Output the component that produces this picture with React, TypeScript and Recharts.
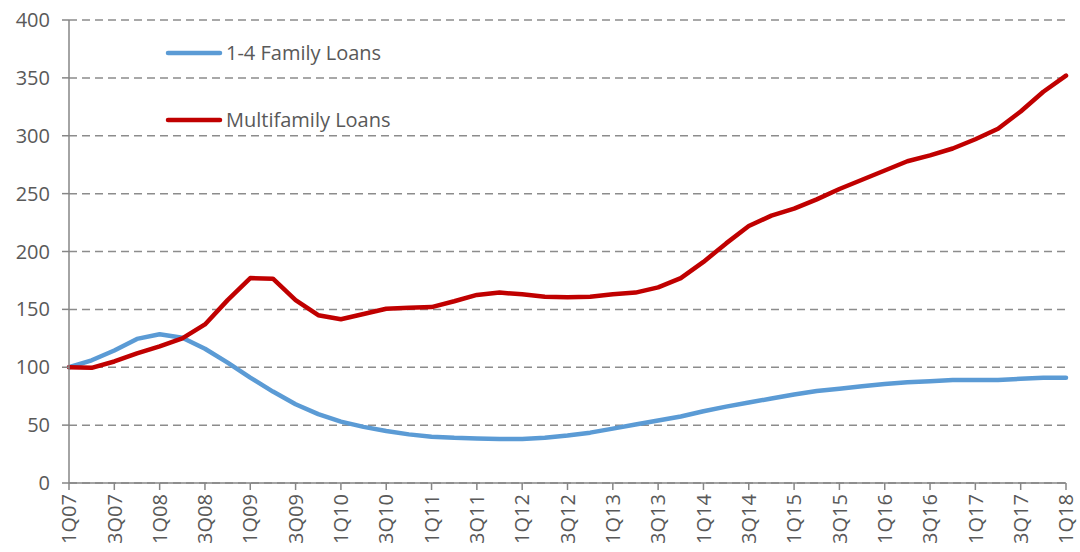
import React from 'react'
import {
  LineChart,
  Line,
  XAxis,
  YAxis,
  CartesianGrid,
} from 'recharts'

const quarters = [
  '1Q07', '2Q07', '3Q07', '4Q07', '1Q08', '2Q08', '3Q08', '4Q08',
  '1Q09', '2Q09', '3Q09', '4Q09', '1Q10', '2Q10', '3Q10', '4Q10',
  '1Q11', '2Q11', '3Q11', '4Q11', '1Q12', '2Q12', '3Q12', '4Q12',
  '1Q13', '2Q13', '3Q13', '4Q13', '1Q14', '2Q14', '3Q14', '4Q14',
  '1Q15', '2Q15', '3Q15', '4Q15', '1Q16', '2Q16', '3Q16', '4Q16',
  '1Q17', '2Q17', '3Q17', '4Q17', '1Q18',
]

const familyLoans = [
  100, 106, 114.5, 124.5, 128.5, 125.5, 116, 104, 91, 79, 68, 59.5, 53, 48.5,
  45, 42, 40, 39, 38.5, 38, 38, 39, 41, 43.5, 47, 50.5, 54, 57.5, 62, 66,
  69.5, 73, 76.5, 79.5, 81.5, 83.5, 85.5, 87, 88, 89, 89, 89, 90, 91, 91,
]

const multifamilyLoans = [
  100, 99.5, 105, 112, 118, 125, 137, 158, 177, 176.5, 158, 145, 141.5, 146,
  150.5, 151.5, 152, 157, 162.5, 164.5, 163, 161, 160.5, 161, 163, 164.5, 169,
  177, 191, 207, 222, 231, 237, 245, 254, 262, 270, 278, 283, 289, 297, 306,
  321, 338, 352,
]

const yTicks = [0, 50, 100, 150, 200, 250, 300, 350, 400]

const series = [
  { key: 'family', name: '1-4 Family Loans', color: '#5B9BD5' },
  { key: 'multi', name: 'Multifamily Loans', color: '#C00000' },
]

const data = quarters.map((q, i) => ({
  q,
  family: familyLoans[i],
  multi: multifamilyLoans[i],
}))

const FONT = "'Open Sans', sans-serif"
const TEXT = '#595959'
const AXIS = '#868686'
const FS = 20

const XTick = (props: any) => {
  const { x, y, payload } = props
  return (
    <text
      x={x}
      y={y + 2}
      transform={`rotate(-90, ${x}, ${y + 2})`}
      textAnchor="end"
      dy="0.36em"
      fill={TEXT}
      fontSize={FS}
      fontFamily={FONT}
    >
      {payload.value}
    </text>
  )
}

const App: React.FC = () => {
  return (
    <div style={{ position: 'absolute', left: 0, top: 0, width: 1080, height: 552, background: '#fff' }}>
      <LineChart
        width={1080}
        height={552}
        data={data}
        margin={{ top: 20, right: 14, left: 0, bottom: 0 }}
      >
        <CartesianGrid
          vertical={false}
          stroke="#8c8c8c"
          strokeWidth={1.5}
          strokeDasharray="8 5"
        />
        <XAxis
          dataKey="q"
          scale="point"
          padding={{ left: 0, right: 0 }}
          interval={1}
          height={69}
          tickSize={7}
          tick={<XTick />}
          axisLine={{ stroke: AXIS, strokeWidth: 1.5 }}
          tickLine={{ stroke: AXIS, strokeWidth: 1.5 }}
        />
        <YAxis
          domain={[0, 400]}
          ticks={yTicks}
          width={69}
          tickSize={7}
          tickMargin={12}
          tick={{ fill: TEXT, fontSize: FS, fontFamily: FONT }}
          axisLine={{ stroke: AXIS, strokeWidth: 1.5 }}
          tickLine={{ stroke: AXIS, strokeWidth: 1.5 }}
        />
        {series.map((s) => (
          <Line
            key={s.key}
            type="linear"
            dataKey={s.key}
            name={s.name}
            stroke={s.color}
            strokeWidth={4.5}
            dot={false}
            strokeLinejoin="round"
            strokeLinecap="round"
            isAnimationActive={false}
          />
        ))}
      </LineChart>
      <div
        style={{
          position: 'absolute',
          left: 165,
          top: 19,
          fontFamily: FONT,
          fontSize: FS,
          color: TEXT,
        }}
      >
        {series.map((s) => (
          <div key={s.key} style={{ display: 'flex', alignItems: 'center', height: 67 }}>
            <svg width={58} height={10} style={{ marginRight: 3 }}>
              <line x1={3} y1={5} x2={55} y2={5} stroke={s.color} strokeWidth={4.5} strokeLinecap="round" />
            </svg>
            <span>{s.name}</span>
          </div>
        ))}
      </div>
    </div>
  )
}

export default App
